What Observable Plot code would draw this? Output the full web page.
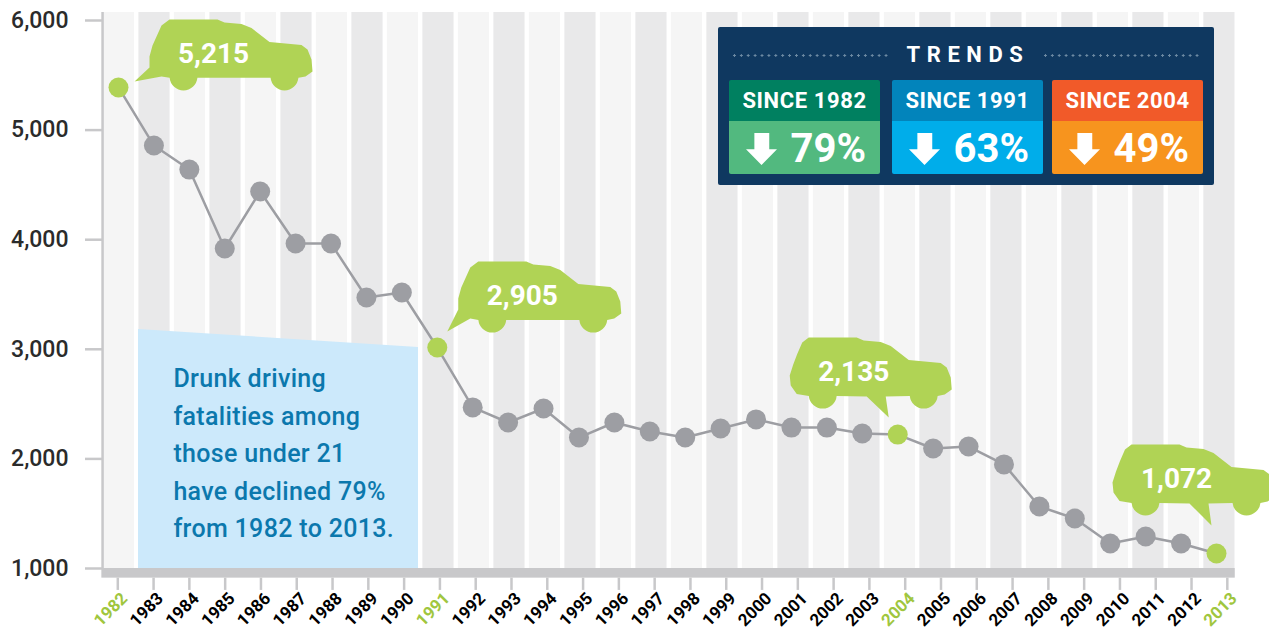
<!DOCTYPE html>
<html>
<head>
<meta charset="utf-8">
<script src="https://cdn.jsdelivr.net/npm/d3@7"></script>
<script src="https://cdn.jsdelivr.net/npm/@observablehq/plot@0.6"></script>
<style>
html,body{margin:0;padding:0;background:#fff;overflow:hidden}
body{position:relative;width:1269px;height:631px;font-family:Roboto,sans-serif}
svg{display:block}
g[font-size="25"] text{letter-spacing:.33px}
#trends{position:absolute;left:718px;top:27px;width:496px;height:158px;background:#0f3860;border-radius:2px;color:#fff}
#trends .title{position:absolute;left:0;width:494px;top:14px;text-align:center;font-size:22px;font-weight:700;letter-spacing:6.6px;line-height:28px;text-indent:6px}
#trends .dots{position:absolute;top:26.5px;height:3px;width:159px;background:radial-gradient(circle,#6d8aa3 1px,transparent 1.4px) 0 0/6.9px 3px repeat-x}
#trends .box{position:absolute;top:53px;width:151px;height:94px;border-radius:2px;overflow:hidden}
#trends .head{height:41px;line-height:42px;text-align:center;font-size:22px;font-weight:700;letter-spacing:.6px}
#trends .body{position:relative;height:53px}
#trends .arrow{position:absolute;left:17px;top:12px;width:31px;height:32px;background:#fff;clip-path:polygon(27% 0,75% 0,75% 51%,100% 51%,50% 100%,0 51%,27% 51%)}
#trends .pct{position:absolute;right:14px;top:1px;line-height:53px;font-size:40px;font-weight:700}
</style>
</head>
<body>
<script>
// ---- data ----
const years = d3.range(1982, 2014);
const fatalities = [5389,4859,4640,3920,4440,3965,3965,3473,3518,3016,2470,2332,2460,2195,2332,2250,2195,2277,2360,2286,2286,2232,2222,2095,2113,1950,1566,1456,1228,1292,1228,1137];
const yTicks = [1000,2000,3000,4000,5000,6000];
const highlightYears = [1982,1991,2004,2013];
const highlightLabels = ["5,215","2,905","2,135","1,072"];
const noteLines = ["Drunk driving","fatalities among","those under 21","have declined 79%","from 1982 to 2013."];
const trendSince = ["SINCE 1982","SINCE 1991","SINCE 2004"];
const trendPct = ["79%","63%","49%"];

// ---- styling and layout ----
const trendColors = [["#008060","#52b97f"],["#0284bb","#00adea"],["#f15a29","#f7941e"]];
const trendLeft = [11,174,334];
const GRAY="#9d9ea3", GREEN="#b0d355", LABELGREEN="#a0c63e", AXIS="#c8c8ca";

// the source's bands and tick marks run on slightly different spacings from the points
const tickX = d => d + (d-1982)*0.0105 - 0.02;
const bandX = d => d + (d-1982)*0.0022 + 0.014;

// car-shaped callout, drawn relative to the dot it points to
function carSymbol(ox, oy, tip, tailLeft){
  return {draw(c){
    const P=(x,y)=>[ox+x,oy+y];
    c.moveTo(...P(19,0));
    [[67,0],[74,3],[91,4.5],[101,8.5],[119,22.5],[151,25.5],[157,30],[161,40],[162,52],[155,57]].forEach(p=>c.lineTo(...P(...p)));
    c.arc(...P(134,57),14,0.1,Math.PI-0.1,false);
    if(!tailLeft){c.lineTo(...P(96,59));c.lineTo(...P(...tip));c.lineTo(...P(77,59));}
    c.arc(...P(33,57),14,0.1,Math.PI-0.1,false);
    if(tailLeft){
      [[11,57],tip,[-1,48],[-1,37],[2,26],[11,6]].forEach(p=>c.lineTo(...P(...p)));
    } else {
      [[7,56.5],[1,48],[0,38],[3.5,27],[7.5,16.5],[12.5,5]].forEach(p=>c.lineTo(...P(...p)));
    }
    c.closePath();
  }};
}
const carLayout = [
  {sym:carSymbol(32,-68,[-16,62],true), dx:95, dy:-33},
  {sym:carSymbol(22,-86,[-12,70],true), dx:85, dy:-52},
  {sym:carSymbol(-108,-97,[99,80],false), dx:-44, dy:-63},
  {sym:carSymbol(-104,-109,[99,81],false), dx:-40, dy:-74}
];
const valueOf = y => fatalities[years.indexOf(y)];
const isHi = d => highlightYears.includes(d);

const noteShape = [[1982.565,3181],[1990.47,3016]];

const chart = Plot.plot({
  width:1269, height:631,
  marginLeft:102, marginRight:34, marginTop:20, marginBottom:63,
  x:{domain:[1982,2013], range:[118,1216], axis:null},
  y:{domain:[1000,6000], range:[568,20], axis:null},
  style:{fontFamily:"Roboto, sans-serif", background:"#fff"},
  marks:[
    // alternating column bands
    Plot.rect(years,{x1:d=>bandX(d)-0.44,x2:d=>bandX(d)+0.44,y1:()=>1000,y2:()=>6073,
      fill:d=>(d-1982)%2?"#e9e9ea":"#f5f5f5"}),
    // note background
    Plot.area(noteShape,{x1:d=>d[0],y1:()=>1000,y2:d=>d[1],fill:"#cce9fb"}),
    // axes
    Plot.ruleX([1981.55],{y1:()=>1000,y2:()=>6073,stroke:AXIS,strokeWidth:2.5}),
    Plot.axisY(yTicks,{anchor:"left",label:null,tickSize:17,tickPadding:17,tickFormat:d3.format(","),
      stroke:AXIS,strokeWidth:2.5,strokeOpacity:1,fill:"#2b2b2b",fontSize:23,fontWeight:500,tickRotate:0,marginLeft:102}),
    Plot.rect([0],{x1:()=>1981.53,x2:()=>2013.53,y1:()=>912,y2:()=>1000,fill:AXIS}),
    Plot.ruleX(years,{x:tickX,y1:()=>912,y2:()=>800,stroke:AXIS,strokeWidth:2.5}),
    Plot.text(years,{x:tickX,y:()=>1000,dy:41,dx:-7,text:d=>String(d),rotate:-45,fontSize:17,fontWeight:700,
      fill:d=>isHi(d)?LABELGREEN:"#000"}),
    // series
    Plot.line(years,{x:d=>d,y:valueOf,stroke:GRAY,strokeWidth:2.5}),
    Plot.dot(years,{x:d=>d,y:valueOf,r:10,fill:d=>isHi(d)?GREEN:GRAY,stroke:"none"}),
    // car callouts
    ...highlightYears.map((yr,i)=>Plot.dot([yr],{x:d=>d,y:valueOf,symbol:carLayout[i].sym,fill:GREEN,stroke:"none"})),
    ...highlightYears.map((yr,i)=>Plot.text([yr],{x:d=>d,y:valueOf,text:()=>highlightLabels[i],dx:carLayout[i].dx,dy:carLayout[i].dy,
      fill:"#fff",fontSize:28,fontWeight:700})),
    // note text
    ...noteLines.map((t,i)=>Plot.text([t],{x:()=>1983.55,y:()=>3000,dy:30+37.4*i,text:d=>d,textAnchor:"start",fontSize:25,fontWeight:500,
      fill:"#0b78ad"}))
  ]
});
document.body.appendChild(chart);

// ---- trends panel ----
const panel=document.createElement("div");
panel.id="trends";
panel.innerHTML=`<div class="dots" style="left:13px"></div><div class="dots" style="left:324px"></div><div class="title">TRENDS</div>`+
  trendSince.map((s,i)=>`<div class="box" style="left:${trendLeft[i]}px"><div class="head" style="background:${trendColors[i][0]}">${s}</div>`+
  `<div class="body" style="background:${trendColors[i][1]}"><div class="arrow"></div><div class="pct">${trendPct[i]}</div></div></div>`).join("");
document.body.appendChild(panel);
</script>
</body>
</html>
